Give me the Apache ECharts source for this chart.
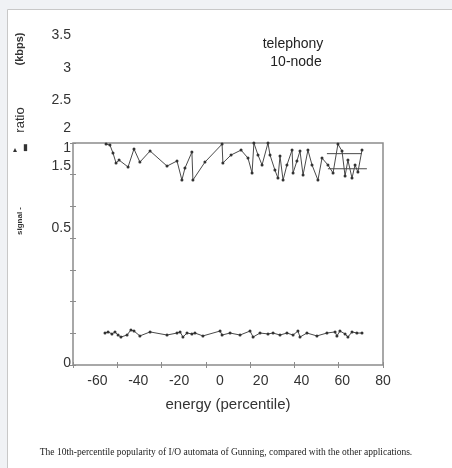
<!DOCTYPE html>
<html>
<head>
<meta charset="utf-8">
<script src="https://cdn.jsdelivr.net/npm/echarts@6/dist/echarts.min.js"></script>
<style>
html,body{margin:0;padding:0;background:#f0f2f5;}
#c{width:452px;height:468px;}
</style>
</head>
<body>
<div id="c"></div>
<script>
// ---- data ----
const xTickLabels = [-60, -40, -20, 0, 20, 40, 60, 80];
const yTickLabels = ['0', '0.5', '1.5', '1', '2', '2.5', '3', '3.5'];

const topX = [-55.8,-53.9,-52.4,-50.9,-49.4,-45.0,-42.1,-39.2,-34.2,-25.9,-21.0,-18.6,-17.1,-13.7,-13.2,-7.3,1.1,1.5,5.5,10.4,13.8,15.8,16.7,18.7,20.7,23.6,24.6,27.0,28.5,29.5,31.0,32.9,35.4,35.9,37.8,39.3,40.8,43.2,45.2,48.1,50.1,53.0,55.5,57.9,59.9,61.4,62.8,64.8,66.3,67.7,69.7];
const topY = [0.995,0.991,0.955,0.910,0.923,0.892,0.973,0.914,0.964,0.896,0.919,0.833,0.887,0.959,0.833,0.914,0.995,0.910,0.946,0.968,0.932,0.865,1.0,0.946,0.901,1.0,0.946,0.878,0.842,0.941,0.833,0.901,0.968,0.865,0.919,0.964,0.856,0.968,0.901,0.833,0.932,0.901,0.865,0.995,0.964,0.851,0.923,0.842,0.901,0.869,0.968];

const bottomX = [-56.3,-54.8,-52.9,-51.4,-49.9,-48.5,-45.5,-43.6,-42.1,-39.2,-34.2,-25.9,-21.0,-19.5,-18.1,-16.1,-13.7,-12.2,-8.3,0.1,1.1,5.0,9.9,14.8,16.3,19.7,23.6,26.1,29.5,32.9,35.9,38.3,39.3,42.7,47.6,52.5,56.5,57.4,58.9,61.4,62.8,64.8,67.2,69.7];
const bottomY = [0.144,0.149,0.140,0.149,0.135,0.126,0.135,0.158,0.153,0.131,0.149,0.135,0.144,0.149,0.126,0.144,0.140,0.144,0.131,0.153,0.135,0.144,0.135,0.153,0.126,0.144,0.140,0.144,0.135,0.144,0.135,0.153,0.126,0.144,0.131,0.144,0.149,0.131,0.153,0.140,0.126,0.149,0.144,0.144];

const bandUpperX = [52.5, 69.7];
const bandUpperY = [0.952, 0.952];
const bandLowerX = [53.0, 72.1];
const bandLowerY = [0.884, 0.884];

// ---- layout (not data) ----
const yTickLabelPos = [2, 137, 199, 217, 237, 265, 297, 330];

const zip = (xs, ys) => xs.map((x, i) => [x, ys[i]]);

const chart = echarts.init(document.getElementById('c'), null, {renderer: 'canvas'});
const frameColor = '#8c8c8c';
const sans = 'Liberation Sans, Arial';
const tickAxis = (pos) => ({
  type: 'value', gridIndex: 0, position: pos, min: 0, max: 7, interval: 1,
  axisLine: {show: false}, axisLabel: {show: false}, splitLine: {show: false},
  axisTick: {show: true, inside: true, length: 3, lineStyle: {color: frameColor, width: 1}}
});
const lineSeries = (data, sym) => ({
  type: 'line', xAxisIndex: 0, yAxisIndex: 0, data: data,
  symbol: sym ? 'circle' : 'none', symbolSize: 3, showSymbol: sym,
  lineStyle: {color: '#4a4a4a', width: 1},
  itemStyle: {color: '#333'},
  animation: false, silent: true
});

chart.setOption({
  backgroundColor: '#f0f2f5',
  animation: false,
  grid: [
    {left: 73, top: 143, width: 310, height: 222, show: true, backgroundColor: '#fff', borderColor: frameColor, borderWidth: 1.5},
    {left: 73, top: 20, width: 310, height: 345, show: false}
  ],
  xAxis: [
    {
      type: 'value', gridIndex: 0, min: -72, max: 80, position: 'bottom',
      axisLine: {show: false}, axisTick: {show: false}, splitLine: {show: false},
      axisLabel: {show: true, customValues: xTickLabels, margin: 9, color: '#333', fontSize: 14, fontFamily: sans},
      name: 'energy (percentile)', nameLocation: 'middle', nameGap: 32,
      nameTextStyle: {color: '#333', fontSize: 15, fontFamily: sans}
    },
    tickAxis('bottom'),
    tickAxis('top'),
    {type: 'value', gridIndex: 1, min: 0, max: 1, show: false}
  ],
  yAxis: [
    {type: 'value', gridIndex: 0, min: 0, max: 1, axisLine: {show: false}, axisTick: {show: false}, axisLabel: {show: false}, splitLine: {show: false}},
    tickAxis('left'),
    tickAxis('right'),
    {
      type: 'value', gridIndex: 1, min: 0, max: 345, position: 'left',
      axisLine: {show: false}, axisTick: {show: false}, splitLine: {show: false},
      axisLabel: {
        show: true, customValues: yTickLabelPos, margin: 2, color: '#333', fontSize: 14, fontFamily: sans,
        formatter: (v) => yTickLabels[yTickLabelPos.indexOf(v)]
      }
    }
  ],
  graphic: [
    {type: 'rect', z: -10, shape: {x: 7.5, y: 9.5, width: 460, height: 470}, style: {fill: '#fff', stroke: '#c8c8c8', lineWidth: 1}},
    {type: 'text', x: 293, y: 44, style: {text: 'telephony', fill: '#222', fontSize: 14, fontFamily: sans, align: 'center', verticalAlign: 'middle'}},
    {type: 'text', x: 296, y: 62, style: {text: '10-node', fill: '#222', fontSize: 14, fontFamily: sans, align: 'center', verticalAlign: 'middle'}},
    {type: 'text', x: 20, y: 49, rotation: Math.PI / 2, style: {text: '(kbps)', fill: '#333', fontSize: 11, fontWeight: 'bold', fontFamily: sans, align: 'center', verticalAlign: 'middle'}},
    {type: 'text', x: 20, y: 120, rotation: Math.PI / 2, style: {text: 'ratio', fill: '#333', fontSize: 13, fontFamily: sans, align: 'center', verticalAlign: 'middle'}},
    {type: 'text', x: 15, y: 150, style: {text: '▴', fill: '#333', fontSize: 8, align: 'center', verticalAlign: 'middle'}},
    {type: 'text', x: 25, y: 148, style: {text: '▮', fill: '#333', fontSize: 9, align: 'center', verticalAlign: 'middle'}},
    {type: 'text', x: 20, y: 221, rotation: Math.PI / 2, style: {text: 'signal -', fill: '#333', fontSize: 8, fontWeight: 'bold', fontFamily: sans, align: 'center', verticalAlign: 'middle'}},
    {type: 'text', x: 226, y: 452, style: {text: 'The 10th-percentile popularity of I/O automata of Gunning, compared with the other applications.', fill: '#222', fontSize: 9.5, fontFamily: 'Liberation Serif, Times New Roman, serif', align: 'center', verticalAlign: 'middle'}}
  ],
  series: [
    lineSeries(zip(topX, topY), true),
    lineSeries(zip(bottomX, bottomY), true),
    lineSeries(zip(bandUpperX, bandUpperY), false),
    lineSeries(zip(bandLowerX, bandLowerY), false)
  ]
});
</script>
</body>
</html>
